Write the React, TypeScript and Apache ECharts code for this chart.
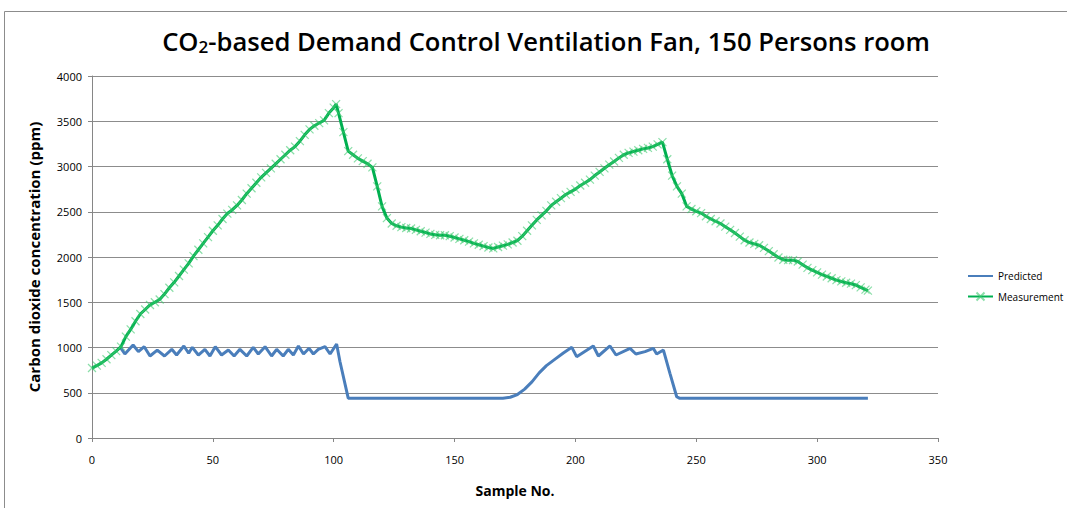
import React, { useEffect, useRef } from "react";
import * as echarts from "echarts";

const xTicks = [0, 50, 100, 150, 200, 250, 300, 350];
const yTicks = [0, 500, 1000, 1500, 2000, 2500, 3000, 3500, 4000];

const measurementSamples = [
  0, 2, 4, 6, 8, 10, 12, 14, 16, 18, 20, 22, 24, 26, 28, 30, 32, 34, 36, 38, 40,
  42, 44, 46, 48, 50, 52, 54, 56, 58, 60, 62, 64, 66, 68, 70, 72, 74, 76, 78, 80,
  82, 84, 86, 88, 90, 92, 94, 96, 98, 100, 101, 102, 104, 106, 108, 110, 112, 114,
  116, 118, 120, 122, 124, 126, 128, 130, 132, 134, 136, 138, 140, 142, 144, 146,
  148, 150, 152, 154, 156, 158, 160, 162, 164, 166, 168, 170, 172, 174, 176, 178,
  180, 182, 184, 186, 188, 190, 192, 194, 196, 198, 200, 202, 204, 206, 208, 210,
  212, 214, 216, 218, 220, 222, 224, 226, 228, 230, 232, 234, 236, 238, 240, 242,
  244, 246, 248, 250, 252, 254, 256, 258, 260, 262, 264, 266, 268, 270, 272, 274,
  276, 278, 280, 282, 284, 286, 288, 290, 292, 294, 296, 298, 300, 302, 304, 306,
  308, 310, 312, 314, 316, 318, 320, 321,
];
const measurementValues = [
  773, 800, 830, 870, 915, 960, 1009, 1120, 1200, 1290, 1370, 1420, 1470, 1500,
  1530, 1590, 1660, 1720, 1790, 1860, 1930, 2010, 2080, 2150, 2220, 2290, 2350,
  2420, 2480, 2520, 2570, 2630, 2700, 2760, 2820, 2880, 2930, 2980, 3030, 3080,
  3130, 3180, 3220, 3280, 3350, 3410, 3450, 3480, 3510, 3590, 3650, 3690, 3590,
  3380, 3170, 3130, 3090, 3060, 3030, 2990, 2780, 2560, 2430, 2370, 2345, 2330,
  2320, 2315, 2300, 2285, 2270, 2255, 2245, 2240, 2240, 2230, 2215, 2200, 2185,
  2170, 2150, 2135, 2120, 2105, 2095, 2110, 2125, 2140, 2160, 2180, 2230, 2290,
  2350, 2410, 2460, 2510, 2570, 2610, 2650, 2690, 2720, 2750, 2790, 2820, 2855,
  2900, 2940, 2980, 3020, 3055, 3095, 3130, 3150, 3165, 3180, 3195, 3205, 3220,
  3245, 3270, 3080, 2900, 2780, 2700, 2560, 2530, 2505, 2485, 2450, 2420, 2395,
  2370, 2335, 2300, 2265, 2225, 2185, 2160, 2145, 2130, 2100, 2065, 2030, 1995,
  1970, 1965, 1965, 1950, 1915, 1880, 1855, 1830, 1805, 1785, 1765, 1745, 1730,
  1715, 1705, 1690, 1665, 1640, 1628,
];

const predictedSamples = [
  12, 13.6, 17, 19.2, 21.6, 24, 27, 30, 33, 35, 38, 40, 41.5, 44, 46.7, 48.8, 51,
  53.6, 56.4, 58.8, 61.2, 64, 66.7, 68.8, 71.6, 74.3, 76.4, 79.1, 81.2, 83.3,
  85.4, 87.5, 89.8, 91.6, 93.6, 96.4, 98.5, 101.2, 102.6, 106, 170, 173, 176,
  179, 182, 185, 188, 192, 195, 198.5, 200.5, 207.4, 209.5, 214.3, 216.8, 222.6,
  225, 228.8, 232.2, 233.6, 236.4, 239.1, 241.9, 243, 321,
];
const predictedValues = [
  991, 928, 1028, 954, 1009, 906, 972, 906, 980, 917, 1017, 936, 1002, 917, 980,
  906, 1009, 917, 972, 906, 980, 906, 1002, 928, 1009, 906, 980, 906, 980, 917,
  1017, 928, 991, 928, 980, 1009, 928, 1039, 843, 440, 440, 450, 480, 540, 620,
  720, 800, 880, 940, 1002, 899, 1017, 906, 1017, 917, 991, 928, 954, 991, 928,
  972, 715, 456, 440, 440,
];

const FONT = "'Open Sans', 'Noto Sans', sans-serif";

export default function App() {
  const ref = useRef<HTMLDivElement>(null);
  useEffect(() => {
    if (!ref.current) return;
    const chart = echarts.init(ref.current, undefined, { renderer: "svg" });
    const measurement = measurementSamples.map((s, i) => [s, measurementValues[i]]);
    const predicted = predictedSamples.map((s, i) => [s, predictedValues[i]]);
    chart.setOption({
      animation: false,
      backgroundColor: "#ffffff",
      textStyle: { fontFamily: FONT },
      title: {
        text: "CO{sub|2}-based Demand Control Ventilation Fan, 150 Persons room",
        left: 541,
        top: 22,
        textAlign: "center",
        textStyle: {
          fontFamily: FONT,
          fontSize: 25.6,
          fontWeight: 600,
          color: "#000",
          rich: {
            sub: {
              fontFamily: FONT,
              fontSize: 17,
              fontWeight: 600,
              color: "#000",
              padding: [11, 0, 0, 0],
            },
          },
        },
      },
      graphic: [
        {
          type: "rect",
          shape: { x: 4.5, y: 11.5, width: 1200, height: 700 },
          style: { fill: "none", stroke: "#8c8c8c", lineWidth: 1 },
          silent: true,
        },
      ],
      legend: {
        orient: "vertical",
        left: 962,
        top: 266,
        itemGap: 9,
        itemWidth: 25,
        itemHeight: 10,
        textStyle: { fontFamily: FONT, fontSize: 10, color: "#000" },
        data: [
          { name: "Predicted", itemStyle: { opacity: 0 } },
          { name: "Measurement" },
        ],
      },
      grid: { left: 92, right: 129, top: 76, bottom: 70 },
      xAxis: {
        type: "value",
        min: 0,
        max: 350,
        interval: 50,
        name: "Sample No.",
        nameLocation: "middle",
        nameGap: 45,
        nameTextStyle: { fontFamily: FONT, fontSize: 14, fontWeight: "bold", color: "#000" },
        axisLine: { show: true, lineStyle: { color: "#868686" } },
        axisTick: { show: true, length: 4, lineStyle: { color: "#868686" } },
        axisLabel: {
          fontFamily: FONT,
          fontSize: 11,
          color: "#000",
          margin: 16,
          formatter: (v: number) => (xTicks.includes(v) ? String(v) : ""),
        },
        splitLine: { show: false },
      },
      yAxis: {
        type: "value",
        min: 0,
        max: 4000,
        interval: 500,
        name: "Carbon dioxide concentration (ppm)",
        nameLocation: "middle",
        nameGap: 51,
        nameTextStyle: { fontFamily: FONT, fontSize: 15, fontWeight: "bold", color: "#000" },
        axisLine: { show: true, lineStyle: { color: "#868686" } },
        axisTick: { show: true, length: 4, lineStyle: { color: "#868686" } },
        axisLabel: {
          fontFamily: FONT,
          fontSize: 11,
          color: "#000",
          margin: 10,
          formatter: (v: number) => (yTicks.includes(v) ? String(v) : ""),
        },
        splitLine: { show: true, lineStyle: { color: "#8c8c8c", width: 1 } },
      },
      series: [
        {
          name: "Predicted",
          type: "line",
          data: predicted,
          symbol: "none",
          lineStyle: { color: "#4a7ebb", width: 3 },
          itemStyle: { color: "#4a7ebb" },
          z: 2,
        },
        {
          name: "Measurement",
          type: "line",
          data: measurement,
          symbol: "path://M0 0L10 10M10 0L0 10",
          symbolSize: 8,
          showSymbol: true,
          lineStyle: { color: "#00b050", width: 3 },
          itemStyle: {
            color: "none",
            borderColor: "rgba(60, 200, 110, 0.6)",
            borderWidth: 1.2,
          },
          z: 3,
        },
      ],
    });
    return () => chart.dispose();
  }, []);
  return (
    <div
      ref={ref}
      style={{ position: "absolute", left: 0, top: 0, width: 1067, height: 508 }}
    />
  );
}
